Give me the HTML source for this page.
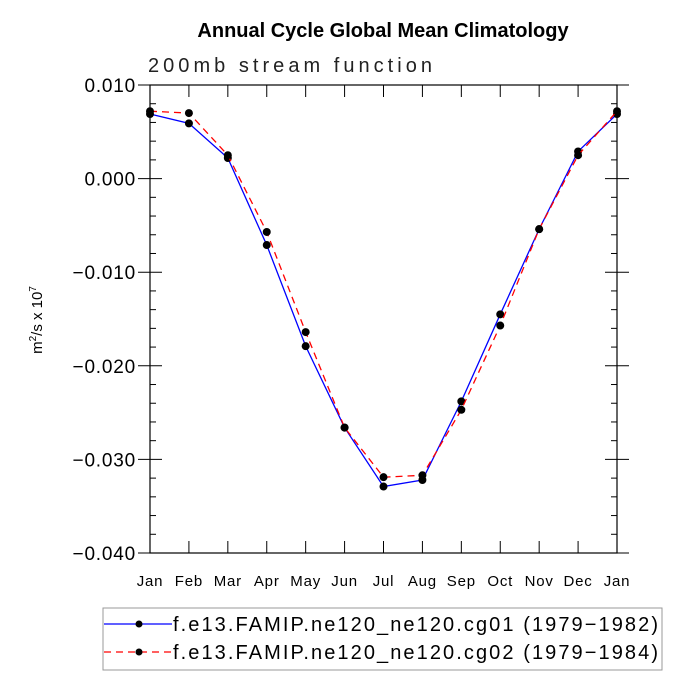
<!DOCTYPE html>
<html><head><meta charset="utf-8"><style>
body{margin:0;background:#fff;}
text{font-family:"Liberation Sans",sans-serif;}
</style></head><body>
<svg id="chart" width="689" height="689" viewBox="0 0 689 689" xmlns="http://www.w3.org/2000/svg">
<text x="383" y="37" text-anchor="middle" font-size="20" font-weight="bold">Annual Cycle Global Mean Climatology</text>
<text x="148" y="72" font-size="20" textLength="284" lengthAdjust="spacing" fill="#222">200mb stream function</text>
<text transform="translate(42,320) rotate(-90)" text-anchor="middle" font-size="15">m<tspan dy="-6" font-size="10">2</tspan><tspan dy="6">/s x 10</tspan><tspan dy="-6" font-size="10">7</tspan></text>
<g id="axes"></g>
<g id="series"></g>
<g>
<rect x="103" y="608" width="559" height="62" fill="none" stroke="#999" stroke-width="1"/>
<line x1="104" y1="624" x2="172" y2="624" stroke="#0000ff" stroke-width="1.3"/>
<circle cx="139" cy="624" r="3.5" fill="#000"/>
<text x="173" y="631" font-size="20" textLength="485" lengthAdjust="spacing">f.e13.FAMIP.ne120_ne120.cg01 (1979−1982)</text>
<line x1="104" y1="652" x2="172" y2="652" stroke="#ff0000" stroke-width="1.3" stroke-dasharray="7,5"/>
<circle cx="139" cy="652" r="3.5" fill="#000"/>
<text x="173" y="659" font-size="20" textLength="485" lengthAdjust="spacing">f.e13.FAMIP.ne120_ne120.cg02 (1979−1984)</text>
</g>
</svg>
<script>
const months=["Jan","Feb","Mar","Apr","May","Jun","Jul","Aug","Sep","Oct","Nov","Dec","Jan"];
const cg01=[0.0069,0.0059,0.0022,-0.0071,-0.0179,-0.0266,-0.0329,-0.0322,-0.0238,-0.0145,-0.0054,0.0029,0.0069];
const cg02=[0.0072,0.0070,0.0025,-0.0057,-0.0164,-0.0266,-0.0319,-0.0317,-0.0247,-0.0157,-0.0054,0.0025,0.0072];
const yTicks=[0.010,0.000,-0.010,-0.020,-0.030,-0.040];
const yTickLabels=["0.010","0.000","\u22120.010","\u22120.020","\u22120.030","\u22120.040"];
const NS="http://www.w3.org/2000/svg";
const L=150,R=617,T=85,B=553,ymin=-0.04,ymax=0.01;
const xs=i=>L+(R-L)*i/(months.length-1);
const ys=v=>B-(v-ymin)/(ymax-ymin)*(B-T);
function mk(tag,attrs,parent){const e=document.createElementNS(NS,tag);for(const k in attrs)e.setAttribute(k,attrs[k]);parent.appendChild(e);return e;}
const ax=document.getElementById('axes');
const fr=mk('rect',{x:L,y:T,width:R-L,height:B-T,fill:'none',stroke:'#000','stroke-width':1.2},ax);


for(let v=ymin;v<=ymax+1e-9;v+=0.002){const y=ys(v);const major=Math.abs(Math.round(v*1000)%10)===0;
 if(major){mk('line',{x1:L-12,y1:y,x2:L+12,y2:y,stroke:'#000'},ax);mk('line',{x1:R-12,y1:y,x2:R+12,y2:y,stroke:'#000'},ax);}
 else{mk('line',{x1:L,y1:y,x2:L+6,y2:y,stroke:'#000'},ax);mk('line',{x1:R-6,y1:y,x2:R,y2:y,stroke:'#000'},ax);}}
yTicks.forEach((v,i)=>{const t=mk('text',{x:L-14,y:ys(v)+7,'text-anchor':'end','font-size':19,'letter-spacing':'0.8'},ax);t.textContent=yTickLabels[i];
 
 });
months.forEach((m,i)=>{const x=xs(i);mk('line',{x1:x,y1:T,x2:x,y2:T+12,stroke:'#000'},ax);mk('line',{x1:x,y1:B-12,x2:x,y2:B,stroke:'#000'},ax);
 const t=mk('text',{x:x,y:B+33,'text-anchor':'middle','font-size':15,'letter-spacing':'0.8'},ax);t.textContent=m;
 
 });
const sg=document.getElementById('series');
function draw(vals,color,dash,name){
 const p=mk('polyline',{points:vals.map((v,i)=>xs(i)+','+ys(v)).join(' '),fill:'none',stroke:color,'stroke-width':1.3,'stroke-dasharray':dash},sg);
 
 
 vals.forEach((v,i)=>{const c=mk('circle',{cx:xs(i),cy:ys(v),r:4,fill:'#000'},sg);
  
  });}
draw(cg01,'#0000ff','none','cg01');
draw(cg02,'#ff0000','7,5','cg02');
</script>
</body></html>
